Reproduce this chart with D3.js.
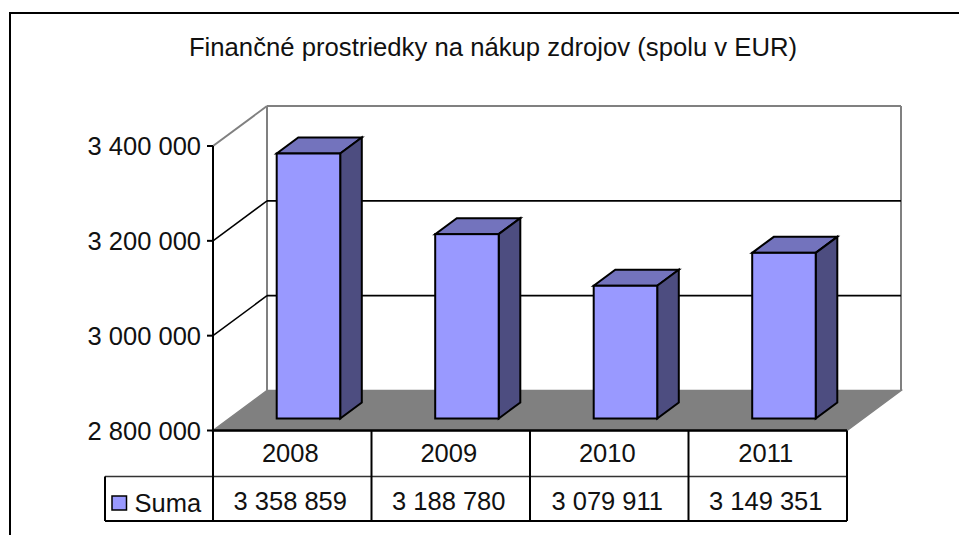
<!DOCTYPE html>
<html><head><meta charset="utf-8">
<style>html,body{margin:0;padding:0;background:#fff}svg{display:block}text{font-family:"Liberation Sans",Arial,sans-serif;fill:#111}</style>
<script src="https://cdn.jsdelivr.net/npm/d3@7/dist/d3.min.js"></script>
</head><body><svg id="c" width="959" height="535"></svg>
<script>
const title = "Finančné prostriedky na nákup zdrojov (spolu v EUR)";
const seriesName = "Suma";
const categories = ["2008","2009","2010","2011"];
const values = [3358859,3188780,3079911,3149351];
const valueLabels = ["3 358 859","3 188 780","3 079 911","3 149 351"];
const yTicks = [2800000,3000000,3200000,3400000];
const yTickLabels = ["2 800 000","3 000 000","3 200 000","3 400 000"];

const svg = d3.select("#c");
const L=213,R=847,B=430.5,T=146,DX=54,DY=-40,FS=25.5;
const x = d3.scaleBand().domain(categories).range([L,R]);
const y = d3.scaleLinear().domain([2800000,3400000]).range([B,T]);
const line=(g,x1,y1,x2,y2,c,w)=>g.append("line").attr("x1",x1).attr("y1",y1).attr("x2",x2).attr("y2",y2).attr("stroke",c).attr("stroke-width",w);
const poly=(g,pts,f,s,w)=>g.append("polygon").attr("points",pts.map(p=>p.join(",")).join(" ")).attr("fill",f).attr("stroke",s).attr("stroke-width",w).attr("stroke-linejoin","miter");

// outer frame: open on the right and at the bottom
svg.append("path").attr("d","M10,535V13H959").attr("fill","none").attr("stroke","#000").attr("stroke-width",2);

svg.append("text").attr("x",493).attr("y",55.5).attr("text-anchor","middle").attr("font-size",25.7).text(title);

// back walls
const g=svg.append("g");
poly(g,[[L+DX,B+DY],[R+DX,B+DY],[R,B],[L,B]],"#808080","#808080",1.5);
line(g,L,T,L+DX,T+DY,"#808080",2);
line(g,L+DX,T+DY,R+DX,T+DY,"#808080",2);
line(g,L+DX,T+DY,L+DX,B+DY,"#808080",2);
line(g,R+DX,T+DY,R+DX,B+DY,"#808080",2);
yTicks.filter(t=>t>2800000&&t<3400000).forEach(t=>{
  const py=y(t);
  line(g,L,py,L+DX,py+DY,"#000",1.5);
  line(g,L+DX,py+DY,R+DX,py+DY,"#000",1.8);
});

// bars
const f0=0.3,f1=0.7,bw=63.5;
categories.forEach((c,i)=>{
  const cx=x(c)+x.bandwidth()/2;
  const xa=cx-bw/2+f0*DX, xb=xa+bw, ex=(f1-f0)*DX, ey=(f1-f0)*DY;
  const yb=B+f0*DY, yt=y(values[i])+f0*DY;
  poly(g,[[xa,yt],[xb,yt],[xb+ex,yt+ey],[xa+ex,yt+ey]],"#7373BD","#000",2);
  poly(g,[[xb,yt],[xb+ex,yt+ey],[xb+ex,yb+ey],[xb,yb]],"#4D4D80","#000",2);
  g.append("rect").attr("x",xa).attr("y",yt).attr("width",bw).attr("height",yb-yt).attr("fill","#9999FF").attr("stroke","#000").attr("stroke-width",2);
});

// y axis
line(g,L,T,L,B,"#000",2);
yTicks.forEach((t,i)=>{
  line(g,L-6,y(t),L,y(t),"#000",2);
  g.append("text").attr("x",L-12).attr("y",y(t)+9).attr("text-anchor","end").attr("font-size",FS).text(yTickLabels[i]);
});

// data table
const r1=476.5,r2=521,LX=105;
line(g,L,B,R,B,"#000",2.5);
line(g,LX,r1,R,r1,"#333",1.5);
line(g,LX,r2,R,r2,"#000",2);
line(g,LX,r1,LX,r2,"#000",2);
[...categories.map(c=>x(c)),R].forEach(v=>line(g,v,B,v,r2,"#000",2));
categories.forEach((c,i)=>{
  const cx=x(c)+x.bandwidth()/2;
  g.append("text").attr("x",cx-2).attr("y",462).attr("text-anchor","middle").attr("font-size",FS).text(c);
  g.append("text").attr("x",cx-2).attr("y",510).attr("text-anchor","middle").attr("font-size",FS).text(valueLabels[i]);
});
g.append("rect").attr("x",112).attr("y",496).attr("width",14.5).attr("height",14).attr("fill","#9999FF").attr("stroke","#000").attr("stroke-width",1.5);
g.append("text").attr("x",134.5).attr("y",511.5).attr("font-size",FS).text(seriesName);
</script></body></html>
